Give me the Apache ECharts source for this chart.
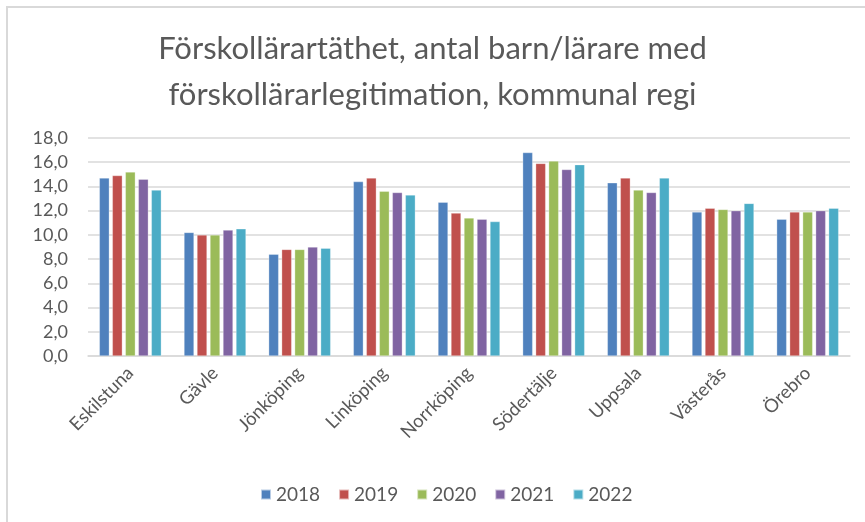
<!DOCTYPE html>
<html>
<head>
<meta charset="utf-8">
<script src="https://cdn.jsdelivr.net/npm/echarts@6/dist/echarts.min.js"></script>
<style>
  html, body { margin: 0; padding: 0; background: #fff; }
  #main { width: 865px; height: 522px; }
</style>
</head>
<body>
<div id="main"></div>
<script>
// kommuner
const categories = ['Eskilstuna', 'Gävle', 'Jönköping', 'Linköping', 'Norrköping', 'Södertälje', 'Uppsala', 'Västerås', 'Örebro'];
const years = ['2018', '2019', '2020', '2021', '2022'];

// barn per lärare med legitimation, per år
const v2018 = [14.7, 10.2, 8.4, 14.4, 12.7, 16.8, 14.3, 11.9, 11.3];
const v2019 = [14.9, 10.0, 8.8, 14.7, 11.8, 15.9, 14.7, 12.2, 11.9];
const v2020 = [15.2, 10.0, 8.8, 13.6, 11.4, 16.1, 13.7, 12.1, 11.9];
const v2021 = [14.6, 10.4, 9.0, 13.5, 11.3, 15.4, 13.5, 12.0, 12.0];
const v2022 = [13.7, 10.5, 8.9, 13.3, 11.1, 15.8, 14.7, 12.6, 12.2];

const yTicks = [0, 2, 4, 6, 8, 10, 12, 14, 16, 18];

const colors = ['#4F81BD', '#C0504D', '#9BBB59', '#8064A2', '#4BACC6'];
const seriesData = [v2018, v2019, v2020, v2021, v2022];
const font = 'Lato, "Open Sans", sans-serif';

const chart = echarts.init(document.getElementById('main'));
const option = {
  animation: false,
  color: colors,
  title: {
    text: 'Förskollärartäthet, antal barn/lärare med\nförskollärarlegitimation, kommunal regi',
    left: 'center',
    top: 21,
    textStyle: { fontFamily: font, fontSize: 31, fontWeight: 'normal', color: '#595959', lineHeight: 46 }
  },
  graphic: [{
    type: 'rect',
    shape: { x: 7, y: 7, width: 900, height: 600 },
    style: { fill: 'none', stroke: '#d9d9d9', lineWidth: 2 },
    silent: true
  }],
  legend: {
    data: years,
    top: 480,
    left: 255,
    icon: 'rect',
    itemWidth: 10,
    itemHeight: 10,
    itemGap: 18,
    textStyle: { fontFamily: font, fontSize: 19, color: '#595959' }
  },
  grid: { left: 88, right: 15, top: 138, bottom: 166 },
  xAxis: {
    type: 'category',
    data: categories,
    axisLine: { lineStyle: { color: '#d9d9d9', width: 1.5 } },
    axisTick: { show: false },
    axisLabel: { rotate: 45, margin: 14, fontFamily: font, fontSize: 18.5, color: '#595959' }
  },
  yAxis: {
    type: 'value',
    min: yTicks[0],
    max: yTicks[yTicks.length - 1],
    interval: 2,
    axisLine: { show: false },
    axisTick: { show: false },
    splitLine: { lineStyle: { color: '#d9d9d9', width: 1.5 } },
    axisLabel: {
      margin: 20,
      fontFamily: font,
      fontSize: 18,
      color: '#595959',
      formatter: v => v.toFixed(1).replace('.', ',')
    }
  },
  series: years.map((y, i) => ({
    name: y,
    type: 'bar',
    data: seriesData[i],
    barWidth: 10,
    barGap: '30%',
    itemStyle: { borderColor: 'rgba(255,255,255,0.6)', borderWidth: 0.5 }
  }))
};
chart.setOption(option);
</script>
</body>
</html>
